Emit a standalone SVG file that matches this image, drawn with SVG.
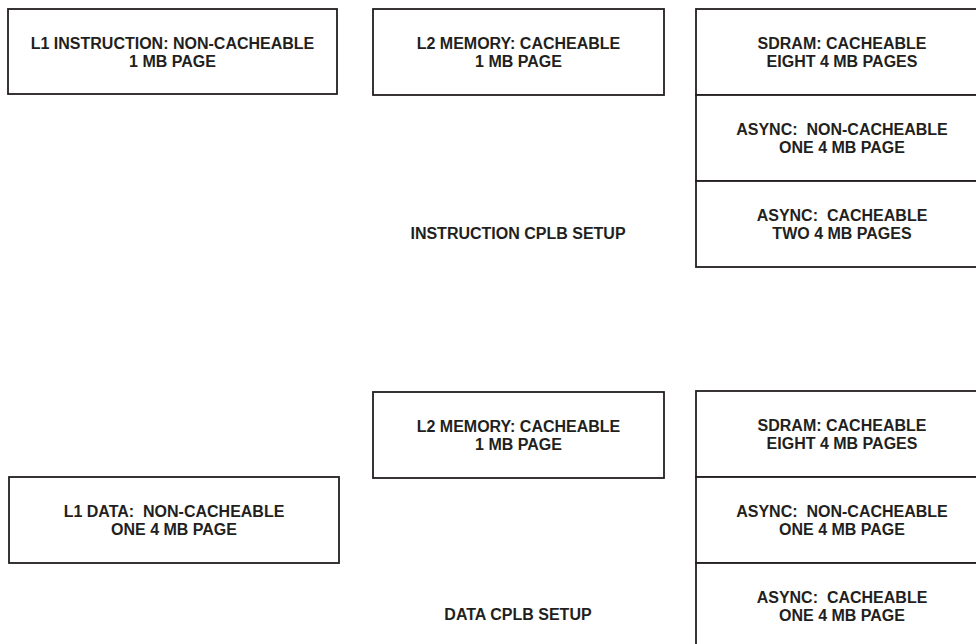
<svg xmlns="http://www.w3.org/2000/svg" width="976" height="644" viewBox="0 0 976 644">
<style>
.box{fill:#fff;stroke:#231f20;stroke-width:1.8}
.t{font-family:"Liberation Sans",Arial,sans-serif;font-weight:bold;font-size:16px;fill:#231f20;text-anchor:middle;white-space:pre}
</style>
<rect width="976" height="644" fill="#fff"/>
<g id="connectors"></g>
<g id="l1-instruction">
<rect class="box" x="8" y="9" width="329" height="85"/>
<text class="t" x="172.5" y="49">L1 INSTRUCTION: NON-CACHEABLE</text>
<text class="t" x="172.5" y="67">1 MB PAGE</text>
</g>
<g id="l2-instruction">
<rect class="box" x="373" y="9" width="291" height="86"/>
<text class="t" x="518.5" y="49">L2 MEMORY: CACHEABLE</text>
<text class="t" x="518.5" y="67">1 MB PAGE</text>
</g>
<g id="sdram-instruction">
<rect class="box" x="696" y="9" width="292" height="86"/>
<text class="t" x="842" y="49">SDRAM: CACHEABLE</text>
<text class="t" x="842" y="67">EIGHT 4 MB PAGES</text>
</g>
<g id="async-nc-instruction">
<rect class="box" x="696" y="95" width="292" height="86"/>
<text class="t" x="842" y="135">ASYNC:  NON-CACHEABLE</text>
<text class="t" x="842" y="153">ONE 4 MB PAGE</text>
</g>
<g id="async-c-instruction">
<rect class="box" x="696" y="181" width="292" height="86"/>
<text class="t" x="842" y="221">ASYNC:  CACHEABLE</text>
<text class="t" x="842" y="239">TWO 4 MB PAGES</text>
</g>
<g id="instruction-label">
<text class="t" x="518" y="239">INSTRUCTION CPLB SETUP</text>
</g>
<g id="l2-data">
<rect class="box" x="373" y="392" width="291" height="86"/>
<text class="t" x="518.5" y="432">L2 MEMORY: CACHEABLE</text>
<text class="t" x="518.5" y="450">1 MB PAGE</text>
</g>
<g id="l1-data">
<rect class="box" x="9" y="477" width="330" height="86"/>
<text class="t" x="174" y="517">L1 DATA:  NON-CACHEABLE</text>
<text class="t" x="174" y="535">ONE 4 MB PAGE</text>
</g>
<g id="sdram-data">
<rect class="box" x="696" y="391" width="292" height="86"/>
<text class="t" x="842" y="431">SDRAM: CACHEABLE</text>
<text class="t" x="842" y="449">EIGHT 4 MB PAGES</text>
</g>
<g id="async-nc-data">
<rect class="box" x="696" y="477" width="292" height="86"/>
<text class="t" x="842" y="517">ASYNC:  NON-CACHEABLE</text>
<text class="t" x="842" y="535">ONE 4 MB PAGE</text>
</g>
<g id="async-c-data">
<rect class="box" x="696" y="563" width="292" height="90"/>
<text class="t" x="842" y="603">ASYNC:  CACHEABLE</text>
<text class="t" x="842" y="621">ONE 4 MB PAGE</text>
</g>
<g id="data-label">
<text class="t" x="518" y="620">DATA CPLB SETUP</text>
</g>
</svg>
